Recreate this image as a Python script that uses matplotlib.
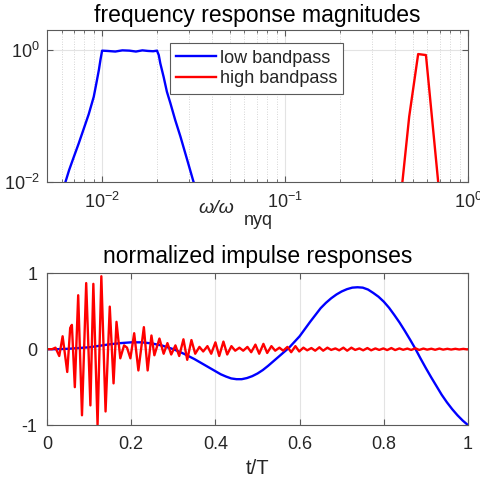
import numpy as np
import matplotlib
matplotlib.use("Agg")
import matplotlib.pyplot as plt
from matplotlib.ticker import LogLocator, NullLocator, FixedLocator

plt.rcParams["font.family"] = ["Liberation Sans", "DejaVu Sans"]
plt.rcParams["mathtext.fontset"] = "custom"
plt.rcParams["mathtext.rm"] = "Liberation Sans"
plt.rcParams["mathtext.it"] = "Liberation Sans:italic"

# ── frequency response magnitudes ────────────────────────────────
low_w   = [0.0060, 0.0063, 0.0066, 0.0070, 0.00745, 0.0079, 0.00845, 0.0090,
           0.0093, 0.0096, 0.0098, 0.0100, 0.0107, 0.0118, 0.0129, 0.0141,
           0.0153, 0.0166, 0.0178, 0.0190, 0.01995, 0.0204, 0.0208, 0.0217,
           0.0226, 0.0236, 0.0251, 0.0268, 0.0292, 0.0316, 0.0330]
low_mag = [0.0075, 0.0100, 0.0152, 0.024, 0.0386, 0.062, 0.107, 0.196,
           0.313, 0.50, 0.72, 0.98, 0.97, 0.95, 0.99, 0.98,
           0.95, 0.99, 0.97, 0.96, 0.98, 0.84, 0.63, 0.39,
           0.234, 0.158, 0.087, 0.049, 0.0216, 0.0101, 0.0080]
high_w   = [0.430, 0.438, 0.477, 0.534, 0.589, 0.687, 0.695]
high_mag = [0.0070, 0.0101, 0.098, 0.87, 0.84, 0.0101, 0.0070]

# ── normalized impulse responses ──────────────────────────────────
blue_t = [0.0, 0.025, 0.05, 0.075, 0.1, 0.125, 0.15, 0.175, 0.2, 0.225,
          0.25, 0.275, 0.3, 0.3125, 0.325, 0.3375, 0.35, 0.3625, 0.375, 0.3875,
          0.4, 0.4125, 0.425, 0.4375, 0.45, 0.4625, 0.475, 0.4875, 0.5, 0.5125,
          0.525, 0.5375, 0.55, 0.5625, 0.575, 0.5875, 0.6, 0.6125, 0.625, 0.6375,
          0.65, 0.6625, 0.675, 0.6875, 0.7, 0.7125, 0.725, 0.7375, 0.75, 0.7625,
          0.775, 0.7875, 0.8, 0.8125, 0.825, 0.8375, 0.85, 0.8625, 0.875, 0.8875,
          0.9, 0.9125, 0.925, 0.9375, 0.95, 0.9625, 0.975, 0.9875, 1.0]
blue_y = [0.0, 0.0, 0.005, 0.015, 0.025, 0.045, 0.065, 0.08, 0.09, 0.09,
          0.075, 0.045, 0.0, -0.03, -0.06, -0.095, -0.13, -0.17, -0.21, -0.25,
          -0.29, -0.33, -0.36, -0.385, -0.395, -0.395, -0.38, -0.355, -0.32, -0.275,
          -0.22, -0.16, -0.10, -0.04, 0.02, 0.095, 0.17, 0.265, 0.36, 0.45,
          0.54, 0.61, 0.67, 0.72, 0.76, 0.79, 0.81, 0.815, 0.81, 0.785,
          0.74, 0.69, 0.625, 0.545, 0.45, 0.35, 0.24, 0.125, 0.005, -0.125,
          -0.25, -0.37, -0.485, -0.60, -0.70, -0.79, -0.87, -0.94, -1.0]

red_t = [0.0, 0.012, 0.020, 0.029, 0.037, 0.048, 0.055, 0.059, 0.066, 0.074,
         0.083, 0.093, 0.103, 0.110, 0.120, 0.129, 0.139, 0.149, 0.158, 0.165,
         0.174, 0.183, 0.190, 0.198, 0.207, 0.217, 0.230, 0.239, 0.248, 0.255,
         0.267, 0.277, 0.286, 0.295, 0.305, 0.314, 0.324, 0.333, 0.343, 0.352,
         0.362, 0.371, 0.381, 0.390, 0.400, 0.409, 0.419, 0.428, 0.438, 0.447,
         0.457, 0.466, 0.476, 0.485, 0.495, 0.504, 0.514, 0.523, 0.533, 0.542,
         0.552, 0.561, 0.571, 0.580, 0.590, 0.599, 0.609, 0.618, 0.628, 0.637,
         0.647, 0.656, 0.666, 0.675, 0.685, 0.694, 0.704, 0.713, 0.723, 0.732,
         0.742, 0.751, 0.761, 0.770, 0.780, 0.789, 0.799, 0.808, 0.818, 0.827,
         0.837, 0.846, 0.856, 0.865, 0.875, 0.884, 0.894, 0.903, 0.913, 0.922,
         0.932, 0.941, 0.951, 0.960, 0.970, 0.979, 0.989, 0.998, 1.0]
red_y = [0.0, 0.0, 0.02, -0.09, 0.17, -0.30, 0.28, 0.32, -0.50, 0.71,
         -0.87, 0.87, -0.74, 0.86, -1.00, 0.96, -0.82, 0.56, -0.45, 0.36,
         -0.12, 0.05, 0.02, -0.12, 0.21, -0.28, 0.29, -0.28, 0.18, -0.08,
         0.14, -0.06, 0.08, -0.07, 0.05, -0.09, 0.13, -0.14, 0.12, -0.06,
         0.03, -0.03, 0.04, -0.06, 0.09, -0.09, 0.10, -0.07, 0.04, -0.02,
         0.02, -0.02, 0.03, -0.04, 0.06, -0.06, 0.07, -0.05, 0.04, -0.02,
         0.02, -0.02, 0.03, -0.04, 0.04, -0.03, 0.02, -0.015, 0.015, -0.02,
         0.025, -0.02, 0.02, -0.01, 0.01, -0.015, 0.02, -0.02, 0.02, -0.01,
         0.01, -0.015, 0.015, -0.015, 0.01, -0.01, 0.01, -0.012, 0.015, -0.012,
         0.01, -0.008, 0.008, -0.01, 0.012, -0.01, 0.008, -0.006, 0.006, -0.008,
         0.008, -0.006, 0.005, -0.005, 0.005, -0.004, 0.004, -0.003, 0.0]

AX_COL = "#5a5a5a"
TXT_COL = "#262626"
GRID_COL = "#e3e3e3"

fig = plt.figure(figsize=(4.8, 4.87), dpi=100)

def style_axes(ax):
    for sp in ax.spines.values():
        sp.set_color(AX_COL)
        sp.set_linewidth(0.8)
    ax.tick_params(which="both", direction="in", top=True, right=True,
                   colors=AX_COL, labelcolor=TXT_COL, labelsize=13)
    ax.tick_params(which="major", length=4)
    ax.tick_params(which="minor", length=2)

# Top: frequency responses
ax1 = fig.add_axes([0.098, 0.626, 0.877, 0.312])
ax1.plot(low_w, low_mag, color="#0000ff", lw=1.7, label="low bandpass")
ax1.plot(high_w, high_mag, color="#ff0000", lw=1.7, label="high bandpass")
ax1.set_xscale("log")
ax1.set_yscale("log")
ax1.set_xlim(5e-3, 1)
ax1.set_ylim(1e-2, 2)
ax1.yaxis.set_major_locator(FixedLocator([1e-2, 1e0]))
ax1.yaxis.set_minor_locator(NullLocator())
ax1.xaxis.set_major_locator(FixedLocator([1e-2, 1e-1, 1e0]))
ax1.xaxis.set_minor_locator(LogLocator(base=10, subs=np.arange(2, 10)))
style_axes(ax1)
ax1.tick_params(axis="x", pad=7)
ax1.tick_params(axis="y", pad=5)
ax1.grid(True, which="major", color=GRID_COL, lw=0.8)
ax1.grid(True, which="minor", axis="x", color="#c8c8c8", lw=0.6, linestyle=(0, (1, 2)))
ax1.set_axisbelow(True)
ax1.set_title("frequency response magnitudes", fontsize=16.5, color="black", pad=6)
leg = ax1.legend(loc="upper left", bbox_to_anchor=(0.292, 0.914), fontsize=13,
                 handlelength=2.2, handletextpad=0.2, labelspacing=0.2,
                 borderpad=0.35, borderaxespad=0, fancybox=False, framealpha=1)
leg.get_frame().set_edgecolor(AX_COL)
leg.get_frame().set_linewidth(0.8)
for t in leg.get_texts():
    t.set_color(TXT_COL)
ax1.text(0.359, -0.204, "ω/ω", transform=ax1.transAxes, fontsize=14,
         style="italic", color=TXT_COL, ha="left", va="baseline")
ax1.text(0.468, -0.285, "nyq", transform=ax1.transAxes, fontsize=13,
         color=TXT_COL, ha="left", va="baseline")

# Bottom: impulse responses
ax2 = fig.add_axes([0.098, 0.127, 0.877, 0.312])
ax2.plot(blue_t, blue_y, color="#0000ff", lw=1.7)
ax2.plot(red_t, red_y, color="#ff0000", lw=1.7)
ax2.set_xlim(0, 1)
ax2.set_ylim(-1, 1)
ax2.set_xticks([0, 0.2, 0.4, 0.6, 0.8, 1])
ax2.set_xticklabels(["0", "0.2", "0.4", "0.6", "0.8", "1"])
ax2.set_yticks([-1, 0, 1])
ax2.set_yticklabels(["-1", "0", "1"])
style_axes(ax2)
ax2.tick_params(axis="x", pad=8)
ax2.tick_params(axis="y", pad=7)
ax2.grid(True, color=GRID_COL, lw=0.8)
ax2.set_axisbelow(True)
ax2.set_title("normalized impulse responses", fontsize=16.5, color="black", pad=7)
ax2.set_xlabel("t/T", fontsize=14.5, color=TXT_COL, labelpad=4)

fig.savefig("out.png", dpi=100)
